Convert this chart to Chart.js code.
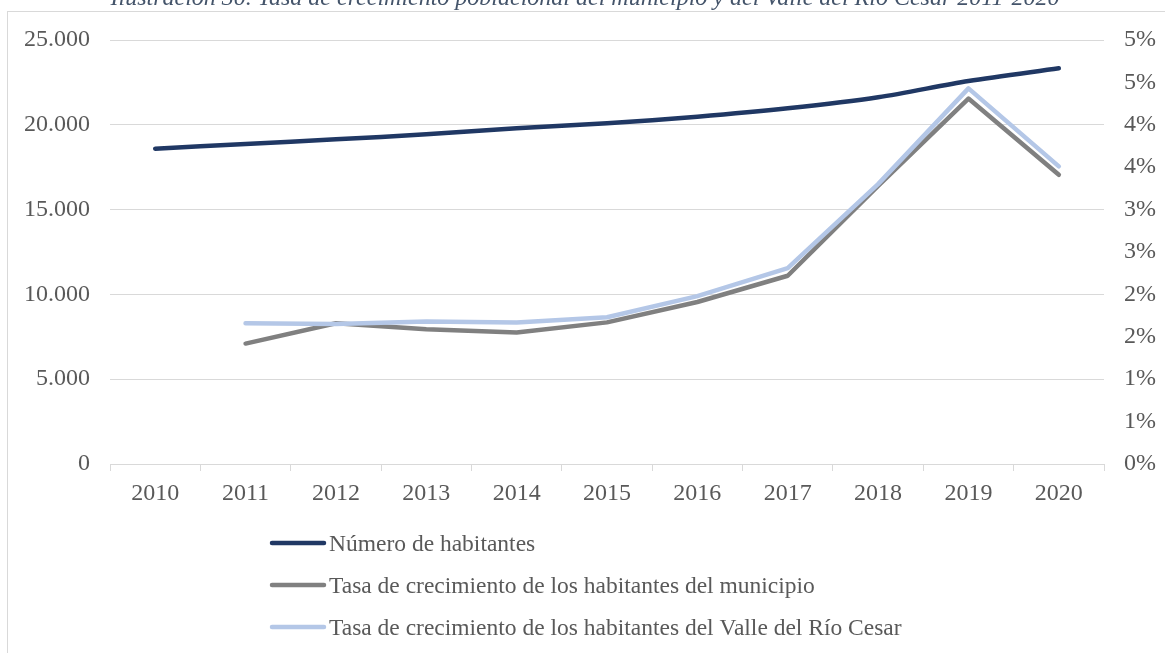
<!DOCTYPE html>
<html lang="es">
<head>
<meta charset="utf-8">
<title>Tasa de crecimiento poblacional</title>
<script src="https://cdn.jsdelivr.net/npm/chart.js@4.4.1/dist/chart.umd.min.js"></script>
<style>
  html, body { margin: 0; padding: 0; background: #ffffff; }
  #wrap { position: relative; width: 1165px; height: 653px; }
</style>
</head>
<body>
<div id="wrap"><canvas id="growth-chart"></canvas></div>
<script>
/* ================================================================
   Población del municipio y tasas de crecimiento 2010-2020
   ================================================================ */

const TITLE = 'Ilustración 30. Tasa de crecimiento poblacional del municipio y del Valle del Río Cesar 2011-2020';

const years = ['2010', '2011', '2012', '2013', '2014', '2015', '2016', '2017', '2018', '2019', '2020'];

// Número de habitantes (eje izquierdo)
const habitantes = [18591, 18868, 19143, 19438, 19792, 20088, 20478, 20971, 21620, 22583, 23331];

// Tasas de crecimiento en % (eje derecho)
const tasaMunicipio = [null, 1.42, 1.66, 1.59, 1.55, 1.67, 1.91, 2.22, 3.28, 4.31, 3.41];
const tasaValle = [null, 1.66, 1.65, 1.68, 1.67, 1.73, 1.98, 2.31, 3.30, 4.43, 3.51];

const leftTicks = [0, 5000, 10000, 15000, 20000, 25000];
const rightTicks = [0, 0.5, 1, 1.5, 2, 2.5, 3, 3.5, 4, 4.5, 5];

const labels = {
  habitantes: 'Número de habitantes',
  municipio: 'Tasa de crecimiento de los habitantes del municipio',
  valle: 'Tasa de crecimiento de los habitantes del Valle del Río Cesar'
};

const FONT = '"Liberation Serif", "Times New Roman", serif';
const TEXT = '#595959';
const GRID = '#d9d9d9';

const fmtMiles = (v) => String(v).replace(/\B(?=(\d{3})+(?!\d))/g, '.');

// Title (cut at the top as in the document), frame and stacked legend
const decorPlugin = {
  id: 'decor',
  afterDraw(chart) {
    const ctx = chart.ctx;
    ctx.save();

    // frame
    ctx.strokeStyle = GRID;
    ctx.lineWidth = 1;
    ctx.strokeRect(7.5, 11.5, 1300, 800);

    // title
    ctx.fillStyle = '#44546A';
    ctx.font = `italic 24px ${FONT}`;
    ctx.textAlign = 'center';
    ctx.textBaseline = 'alphabetic';
    ctx.fillText(TITLE, 585, 5);

    // legend, one row per dataset
    const rowsY = [543, 585, 627];
    chart.data.datasets.forEach((ds, i) => {
      const y = rowsY[i];
      ctx.strokeStyle = ds.borderColor;
      ctx.lineWidth = 4.5;
      ctx.lineCap = 'round';
      ctx.beginPath();
      ctx.moveTo(272, y);
      ctx.lineTo(324, y);
      ctx.stroke();

      ctx.fillStyle = TEXT;
      ctx.font = `23.5px ${FONT}`;
      ctx.textAlign = 'left';
      ctx.textBaseline = 'alphabetic';
      ctx.fillText(ds.label, 329, y + 8);
    });

    ctx.restore();
  }
};

document.addEventListener('DOMContentLoaded', () => {
  const canvas = document.getElementById('growth-chart');
  canvas.width = 1165;
  canvas.height = 653;

  new Chart(canvas, {
    type: 'line',
    data: {
      labels: years,
      datasets: [
        {
          label: labels.habitantes,
          data: habitantes,
          yAxisID: 'y',
          borderColor: '#203864',
          borderWidth: 4.5,
          tension: 0.3,
          order: 3
        },
        {
          label: labels.municipio,
          data: tasaMunicipio,
          yAxisID: 'y1',
          borderColor: '#808080',
          borderWidth: 4.5,
          tension: 0,
          order: 2
        },
        {
          label: labels.valle,
          data: tasaValle,
          yAxisID: 'y1',
          borderColor: '#B4C7E7',
          borderWidth: 4.5,
          tension: 0,
          order: 1
        }
      ]
    },
    options: {
      responsive: false,
      animation: false,
      devicePixelRatio: 1,
      elements: {
        point: { radius: 0, hoverRadius: 0 },
        line: { borderCapStyle: 'round', borderJoinStyle: 'round', fill: false }
      },
      layout: { padding: { top: 40, bottom: 144, left: 0, right: 0 } },
      plugins: {
        legend: { display: false },
        tooltip: { enabled: false },
        title: { display: false }
      },
      scales: {
        x: {
          offset: true,
          grid: {
            offset: true,
            drawOnChartArea: false,
            drawTicks: true,
            tickLength: 7,
            color: GRID
          },
          border: { display: true, color: GRID, width: 1 },
          ticks: { color: TEXT, font: { family: FONT, size: 24 }, padding: 8, maxRotation: 0 },
          afterFit(axis) { axis.height = 45; }
        },
        y: {
          position: 'left',
          min: 0,
          max: 25000,
          afterBuildTicks(axis) { axis.ticks = leftTicks.map(v => ({ value: v })); },
          grid: { color: GRID, lineWidth: 1, drawTicks: false },
          border: { display: false },
          ticks: {
            color: TEXT,
            font: { family: FONT, size: 24 },
            padding: 20,
            callback: (v) => fmtMiles(v)
          },
          afterFit(axis) { axis.width = 110; }
        },
        y1: {
          position: 'right',
          min: 0,
          max: 5,
          afterBuildTicks(axis) { axis.ticks = rightTicks.map(v => ({ value: v })); },
          grid: { drawOnChartArea: false, drawTicks: false },
          border: { display: false },
          ticks: {
            color: TEXT,
            font: { family: FONT, size: 24 },
            padding: 20,
            callback: (v) => Math.round(v) + '%'
          },
          afterFit(axis) { axis.width = 61; }
        }
      }
    },
    plugins: [decorPlugin]
  });
});
</script>
</body>
</html>
